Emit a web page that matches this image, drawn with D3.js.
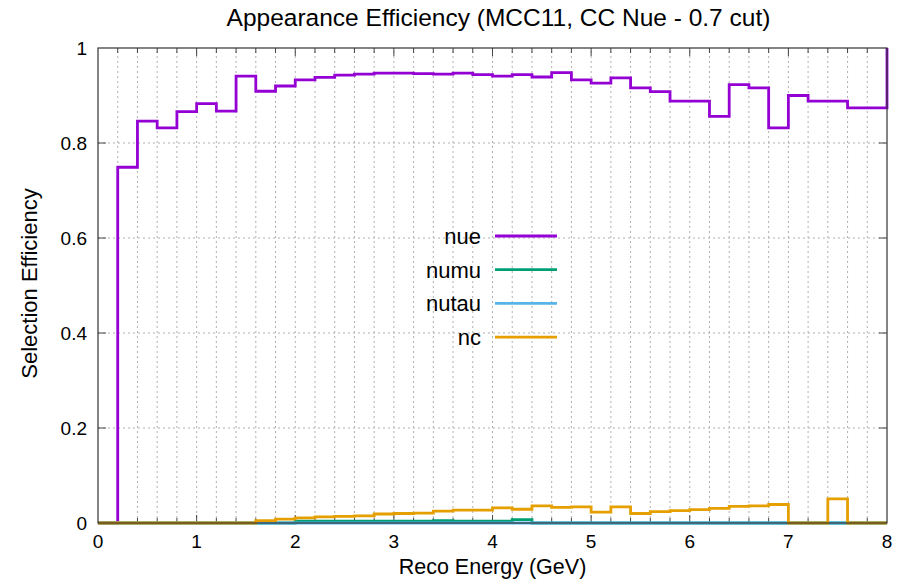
<!DOCTYPE html>
<html><head><meta charset="utf-8">
<script src="https://cdn.jsdelivr.net/npm/d3@7"></script>
<style>
body{margin:0;background:#fff;}
svg{display:block;font-family:"Liberation Sans",Arial,Helvetica,sans-serif;}
</style></head>
<body><svg id="c" width="899" height="580"></svg>
<script>
const binStart = [0.0,0.2,0.4,0.6,0.8,1.0,1.2,1.4,1.6,1.8,2.0,2.2,2.4,2.6,2.8,3.0,3.2,3.4,3.6,3.8,
                  4.0,4.2,4.4,4.6,4.8,5.0,5.2,5.4,5.6,5.8,6.0,6.2,6.4,6.6,6.8,7.0,7.2,7.4,7.6,7.8];
const nue = [0,0.749,0.846,0.832,0.866,0.883,0.867,0.941,0.909,0.920,0.933,0.938,0.943,0.945,0.947,0.947,0.946,0.945,0.947,0.944,
             0.941,0.944,0.939,0.948,0.933,0.926,0.937,0.916,0.908,0.888,0.888,0.856,0.923,0.916,0.832,0.900,0.888,0.888,0.874,0.874];
const nueEnd = 1.0;
const numu = [0,0,0,0,0,0,0,0,0,0,0.004,0.004,0.004,0.004,0.004,0.004,0.004,0.005,0.004,0.004,
              0.004,0.007,0,0,0,0,0,0,0,0,0,0,0,0,0,0,0,0,0,0];
const nutau = [0,0,0,0,0,0,0,0,0,0,0,0,0,0,0,0,0,0,0,0,
               0,0,0,0,0,0,0,0,0,0,0,0,0,0,0,0,0,0,0,0];
const nc = [0,0,0,0,0,0,0,0,0.005,0.008,0.011,0.013,0.014,0.015,0.019,0.020,0.021,0.025,0.027,0.027,
            0.032,0.029,0.036,0.033,0.034,0.023,0.034,0.020,0.024,0.026,0.028,0.031,0.035,0.036,0.039,0,0,0.051,0,0];
const xTicks = [0,1,2,3,4,5,6,7,8];
const yTicks = [0,0.2,0.4,0.6,0.8,1];
const seriesNames = ["nue","numu","nutau","nc"];
const seriesColors = ["#9400d3","#009e73","#56b4e9","#e69f00"];
const xMax = 8;

const svg = d3.select("#c");
const m = {l:98,r:12,t:48,b:57};
const W = 899, H = 580;
const x = d3.scaleLinear().domain([0,8]).range([m.l, W-m.r]);
const y = d3.scaleLinear().domain([0,1]).range([H-m.b, m.t]);

// grid
const minor = binStart.slice(1);
svg.append("g").selectAll("line").data(minor).join("line")
  .attr("x1",d=>x(d)).attr("x2",d=>x(d)).attr("y1",y(0)).attr("y2",y(1))
  .attr("stroke","#b0b0b0").attr("stroke-width",1).attr("stroke-dasharray","2,3");
svg.append("g").selectAll("line").data(yTicks.slice(1,-1)).join("line")
  .attr("x1",x(0)).attr("x2",x(8)).attr("y1",d=>y(d)).attr("y2",d=>y(d))
  .attr("stroke","#b0b0b0").attr("stroke-width",1).attr("stroke-dasharray","2,3");

// ticks (inward)
const tk = svg.append("g").attr("stroke","#444").attr("stroke-width",1);
minor.forEach(v=>{
  const len = xTicks.includes(Math.round(v*10)/10) ? 8 : 5;
  tk.append("line").attr("x1",x(v)).attr("x2",x(v)).attr("y1",y(0)).attr("y2",y(0)-len);
  tk.append("line").attr("x1",x(v)).attr("x2",x(v)).attr("y1",y(1)).attr("y2",y(1)+len);
});
yTicks.slice(1,-1).forEach(v=>{
  tk.append("line").attr("x1",x(0)).attr("x2",x(0)+8).attr("y1",y(v)).attr("y2",y(v));
  tk.append("line").attr("x1",x(8)).attr("x2",x(8)-8).attr("y1",y(v)).attr("y2",y(v));
});

// series
const line = d3.line().x(d=>x(d[0])).y(d=>y(d[1])).curve(d3.curveStepAfter);
const allSeries = [nue,numu,nutau,nc];
allSeries.forEach((vals,i)=>{
  const pts = binStart.map((b,j)=>[b,vals[j]]);
  pts.push([xMax, vals[vals.length-1]]);
  if(i===0) pts.push([xMax, nueEnd]);
  svg.append("path").attr("d",line(pts)).attr("fill","none")
    .attr("stroke",seriesColors[i]).attr("stroke-width",2.8)
    .attr("stroke-linejoin","miter").attr("stroke-linecap","butt");
});

// border
svg.append("rect").attr("x",x(0)).attr("y",y(1)).attr("width",x(8)-x(0)).attr("height",y(0)-y(1))
  .attr("fill","none").attr("stroke","#333").attr("stroke-width",1.2);

// tick labels
svg.append("g").selectAll("text").data(xTicks).join("text")
  .attr("x",d=>x(d)).attr("y",y(0)+25).attr("text-anchor","middle")
  .attr("font-size",19).attr("fill","#000").text(d=>d);
svg.append("g").selectAll("text").data(yTicks).join("text")
  .attr("x",x(0)-11).attr("y",d=>y(d)+7).attr("text-anchor","end")
  .attr("font-size",19).attr("fill","#000").text(d=>d);

// axis labels & title
svg.append("text").attr("x",x(4)).attr("y",H-6).attr("text-anchor","middle")
  .attr("font-size",21.5).text("Reco Energy (GeV)");
svg.append("text").attr("transform",`translate(37,${y(0.5)-2}) rotate(-90)`).attr("text-anchor","middle")
  .attr("font-size",22).text("Selection Efficiency");
svg.append("text").attr("x",x(4)+6).attr("y",26).attr("text-anchor","middle")
  .attr("font-size",24.5).text("Appearance Efficiency (MCC11, CC Nue - 0.7 cut)");

// legend
const lg = svg.append("g");
seriesNames.forEach((n,i)=>{
  const ly = 236 + i*33.7;
  lg.append("text").attr("x",481).attr("y",ly+8).attr("text-anchor","end").attr("font-size",22).text(n);
  lg.append("line").attr("x1",495).attr("x2",557).attr("y1",ly).attr("y2",ly)
    .attr("stroke",seriesColors[i]).attr("stroke-width",2.8);
});
</script></body></html>
